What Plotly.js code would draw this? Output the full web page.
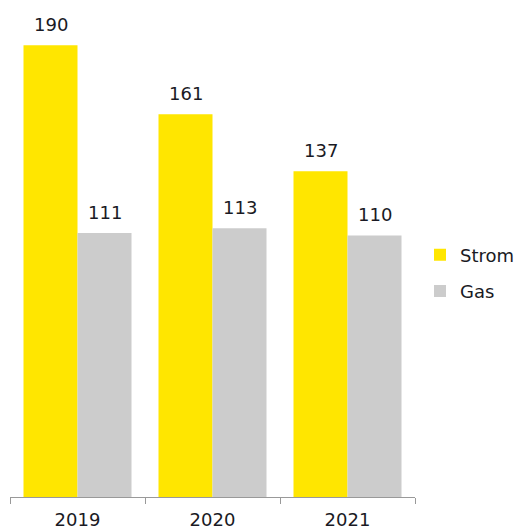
<!DOCTYPE html>
<html><head><meta charset="utf-8">
<script src="https://cdn.plot.ly/plotly-3.0.1.min.js"></script>
<style>html,body{margin:0;padding:0;background:#fff}#chart{width:515px;height:530px}</style>
</head><body><div id="chart"></div>
<script>
const years = ['2019', '2020', '2021'];
const strom = [190, 161, 137];
const gas = [111, 113, 110];
const seriesNames = ['Strom', 'Gas'];

const font = {family: 'DejaVu Sans, sans-serif', size: 18, color: '#1a1a24'};
const traces = [
  {type: 'bar', name: seriesNames[0], legendgroup: 'a', x: years, y: strom, marker: {color: '#FFE600'}},
  {type: 'bar', name: seriesNames[1], legendgroup: 'b', x: years, y: gas, marker: {color: '#CCCCCC'}}
];
const annotations = [];
[strom, gas].forEach((vals, si) => {
  vals.forEach((v, i) => {
    annotations.push({x: i + (si === 0 ? -0.2 : 0.2), y: v, text: String(v), showarrow: false,
      xref: 'x', yref: 'y', yanchor: 'bottom', yshift: 8, font: font});
  });
});
const layout = {
  width: 515, height: 530,
  margin: {l: 10, r: 100, t: 0, b: 33},
  paper_bgcolor: '#fff', plot_bgcolor: '#fff',
  font: font,
  barmode: 'group', bargap: 0.2, bargroupgap: 0,
  xaxis: {type: 'category', range: [-0.5, 2.5], showline: true, linecolor: '#999', linewidth: 1,
          ticks: 'outside', tickson: 'boundaries', ticklen: 6, tickcolor: '#999',
          ticklabelstandoff: 6, tickfont: font, showgrid: false, zeroline: false, automargin: false},
  yaxis: {range: [0, 209], visible: false, showgrid: false, zeroline: false},
  legend: {xref: 'container', yref: 'container', x: 420/515, xanchor: 'left',
           y: 0.485, yanchor: 'middle', font: font, itemwidth: 30,
           traceorder: 'grouped', tracegroupgap: 10},
  annotations: annotations,
  showlegend: true
};
Plotly.newPlot('chart', traces, layout, {displayModeBar: false, staticPlot: true});
</script></body></html>
